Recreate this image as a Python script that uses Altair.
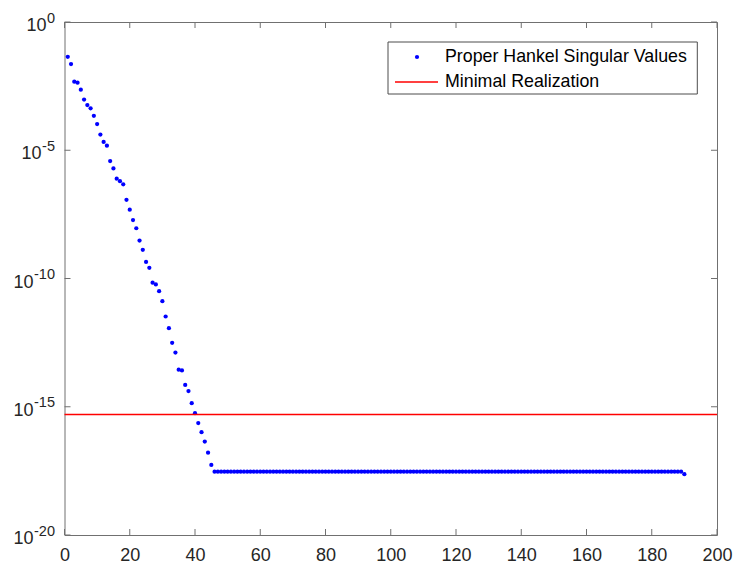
import altair as alt
import pandas as pd

# Proper Hankel singular values, index 1..190
sv_head = [
    4.4e-2, 2.3e-2, 4.7e-3, 4.3e-3, 2.3e-3, 9.5e-4, 5.8e-4, 4.3e-4, 2.2e-4, 1.05e-4,
    4.1e-5, 2.1e-5, 1.5e-5, 3.8e-6, 1.95e-6, 7.8e-7, 6.2e-7, 4.7e-7, 1.17e-7, 4.8e-8,
    1.9e-8, 9.1e-9, 3.0e-9, 1.32e-9, 4.4e-10, 2.6e-10, 6.9e-11, 5.9e-11, 3.2e-11, 1.3e-11,
    3.3e-12, 1.15e-12, 3.1e-13, 1.29e-13, 2.8e-14, 2.6e-14, 7.1e-15, 4.1e-15, 1.38e-15, 5.6e-16,
    2.3e-16, 1.02e-16, 4.4e-17, 1.62e-17, 5.4e-18,
]
sv_floor = [2.95e-18] * 144  # indices 46..189 sit on the numerical floor
sv_last = [2.35e-18]
singular_values = sv_head + sv_floor + sv_last
indices = list(range(1, len(singular_values) + 1))

# tolerance level drawn as the minimal-realization threshold
threshold = [5.0e-16]

x_ticks = [0, 20, 40, 60, 80, 100, 120, 140, 160, 180, 200]
y_ticks = [1e0, 1e-5, 1e-10, 1e-15, 1e-20]
y_exponents = ["0", "-5", "-10", "-15", "-20"]
legend_names = ["Proper Hankel Singular Values", "Minimal Realization"]

W, H = 652.5, 513
FONT = "Liberation Sans"
FRAME = "#707070"
LABEL = "#262626"

df = pd.DataFrame({"k": indices, "sigma": singular_values})
xscale = alt.Scale(domain=[0, 200], nice=False, zero=False)
yscale = alt.Scale(type="log", domain=[1e-20, 1], nice=False)
xaxis = alt.Axis(values=x_ticks, ticks=False, tickSize=0, domain=False, grid=False,
                 labelFont=FONT, labelFontSize=18, labelColor=LABEL,
                 labelPadding=11, labelFlush=False, title=None)

points = alt.Chart(df).mark_circle(size=18, color="#0000ff", opacity=1).encode(
    x=alt.X("k:Q", scale=xscale, axis=xaxis),
    y=alt.Y("sigma:Q", scale=yscale, axis=None),
)

hline = alt.Chart(pd.DataFrame({"tol": threshold})).mark_rule(
    color="#ff0000", strokeWidth=1.6
).encode(y=alt.Y("tol:Q", scale=yscale, axis=None))

xt = pd.DataFrame({"t": x_ticks})
yt = pd.DataFrame({"v": y_ticks, "e": y_exponents})

xtick_bottom = alt.Chart(xt).mark_rule(color=FRAME, strokeWidth=1).encode(
    x=alt.X("t:Q", scale=xscale, axis=xaxis), y=alt.value(H), y2=alt.value(H - 6))
xtick_top = alt.Chart(xt).mark_rule(color=FRAME, strokeWidth=1).encode(
    x=alt.X("t:Q", scale=xscale, axis=xaxis), y=alt.value(0), y2=alt.value(6))
ytick_left = alt.Chart(yt).mark_rule(color=FRAME, strokeWidth=1).encode(
    y=alt.Y("v:Q", scale=yscale, axis=None), x=alt.value(0), x2=alt.value(6))
ytick_right = alt.Chart(yt).mark_rule(color=FRAME, strokeWidth=1).encode(
    y=alt.Y("v:Q", scale=yscale, axis=None), x=alt.value(W), x2=alt.value(W - 6))

# y tick labels as base "10" with a raised exponent, right-aligned as a unit
ylab = alt.Chart(yt).transform_calculate(
    w="length(datum.e) * 8.06 - (indexof(datum.e, '-') == 0 ? 3.2 : 0)",
    bx="-10 - datum.w",
)
ybase = ylab.mark_text(font=FONT, fontSize=18, color=LABEL, align="right",
                       baseline="alphabetic", dy=9).encode(
    x=alt.X("bx:Q", scale=None, axis=None),
    y=alt.Y("v:Q", scale=yscale, axis=None),
    text=alt.value("10"),
)
yexp = ylab.mark_text(font=FONT, fontSize=14.5, color=LABEL, align="right",
                      baseline="alphabetic", dy=0.5).encode(
    x=alt.value(-9.5),
    y=alt.Y("v:Q", scale=yscale, axis=None),
    text="e:N",
)

# legend box
one = pd.DataFrame({"a": [0]})
leg_box = alt.Chart(one).mark_rect(fill="white", stroke="#4d4d4d", strokeWidth=1).encode(
    x=alt.value(323.5), x2=alt.value(632.8), y=alt.value(20), y2=alt.value(72))
leg_dot = alt.Chart(one).mark_circle(size=18, color="#0000ff", opacity=1).encode(
    x=alt.value(352.5), y=alt.value(35))
leg_line = alt.Chart(one).mark_rule(color="#ff0000", strokeWidth=1.6).encode(
    x=alt.value(330.5), x2=alt.value(373.5), y=alt.value(60))
leg_df = pd.DataFrame({"name": legend_names, "row": [0, 1]})
leg_text = alt.Chart(leg_df).transform_calculate(py="34.7 + datum.row * 25").mark_text(
    font=FONT, fontSize=17.8, color="#000000", align="left", baseline="middle").encode(
    x=alt.value(380.5), y=alt.Y("py:Q", scale=None, axis=None), text="name:N")

chart = alt.layer(
    points, hline, xtick_bottom, xtick_top, ytick_left, ytick_right,
    ybase, yexp, leg_box, leg_dot, leg_line, leg_text,
).properties(
    width=W, height=H,
    autosize=alt.AutoSizeParams(type="none"),
    padding={"left": 64.5, "top": 22, "right": 17, "bottom": 29},
    background="white",
).configure_view(stroke=FRAME, strokeWidth=1)

chart.save("out.html", embed_options={"renderer": "svg", "actions": False})
